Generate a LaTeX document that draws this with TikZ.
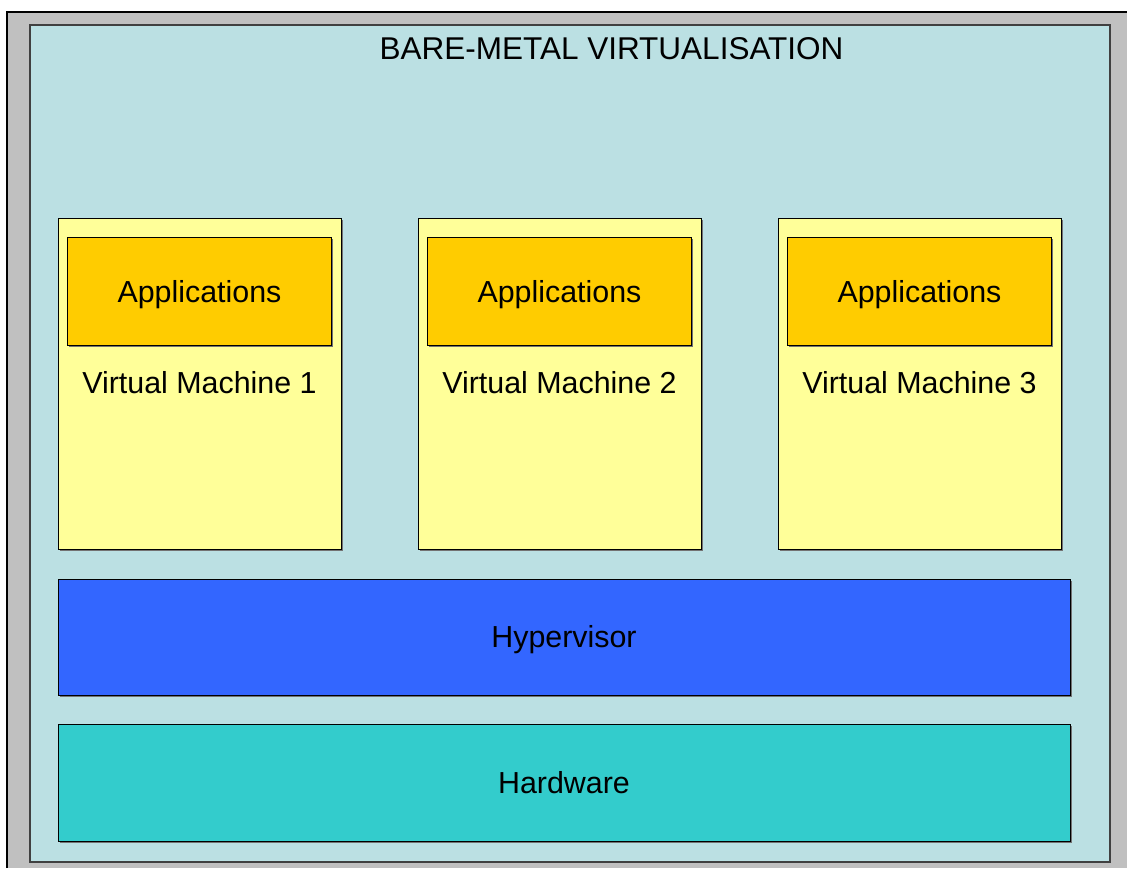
\documentclass[tikz,border=0pt]{standalone}
\usepackage{fontspec}
\setmainfont{Liberation Sans}
\usepackage{tikz}
\usetikzlibrary{positioning, calc, shadows, patterns}

\definecolor{panelblue}{HTML}{BBE0E3}
\definecolor{vmyellow}{HTML}{FFFF99}
\definecolor{appgold}{HTML}{FFCC00}
\definecolor{hypblue}{HTML}{3366FF}
\definecolor{hwteal}{HTML}{33CCCC}
\definecolor{framegray}{HTML}{C0C0C0}

\begin{document}
\begin{tikzpicture}[x=1pt, y=-1pt,
        every node/.style={font=\fontsize{30.4}{36}\selectfont, text height=21.7pt, text depth=0pt, inner sep=0pt},
        layer/.style={rectangle, draw=black, line width=1pt, drop shadow={shadow xshift=1.5pt, shadow yshift=-1.5pt, fill=black!55, opacity=1}}]
        \useasboundingbox (0,0) rectangle (1127,868);

        % Outer sunken frame
        \fill[framegray] (7,12) rectangle (1127,868);
        \draw[line width=1.5pt] (7,868) -- (7,12) -- (1127,12);

        % Main panel
        \node (panel) [rectangle, fill=panelblue, draw=black!75, line width=1.5pt, minimum width=1080pt, minimum height=837pt, anchor=north west] at (29,24) {};
        \node (title) [font=\fontsize{31.5}{36}\selectfont, text height=22.5pt] at (611.5,48.5) {BARE-METAL VIRTUALISATION}; % Title of the panel

        % Virtual machines with their applications
        \foreach \i/\x in {1/199.5, 2/559.5, 3/919.5} {
            \node (vm\i) [layer, fill=vmyellow, minimum width=283pt, minimum height=331pt] at (\x,383.5) {};
            \node (app\i) [layer, fill=appgold, minimum width=264pt, minimum height=108pt] at (\x,291.5) {Applications};
            \node (vmlabel\i) at (\x,383) {Virtual Machine \i};
        }

        % Hypervisor and hardware layers
        \node (hyp) [layer, fill=hypblue, minimum width=1012pt, minimum height=116pt] at (564,637) {Hypervisor};
        \node (hw) [layer, fill=hwteal, minimum width=1012pt, minimum height=117pt] at (564,782.5) {Hardware};
\end{tikzpicture}
\end{document}
